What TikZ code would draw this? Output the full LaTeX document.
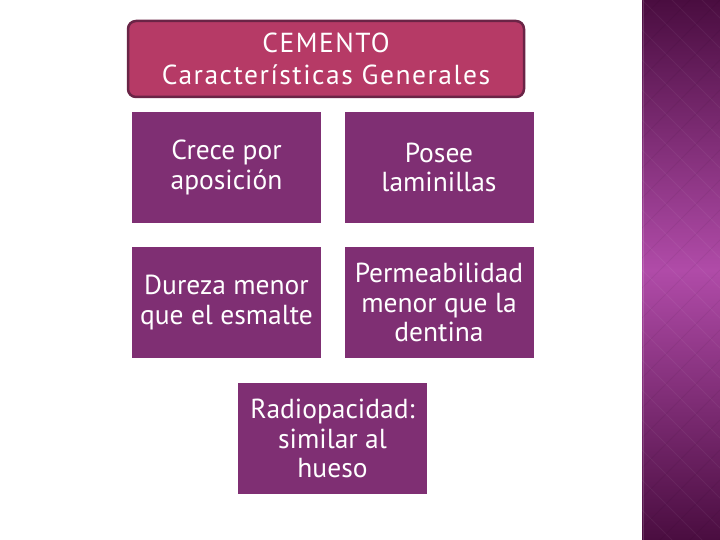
\documentclass[tikz,border=0pt]{standalone}
\usepackage{fontspec}
\setmainfont{PT Sans}
\newfontfamily\titlefont[LetterSpace=5.5]{PT Sans}
\definecolor{titlefill}{HTML}{B63A66}
\definecolor{titledraw}{HTML}{6A2446}
\definecolor{boxfill}{HTML}{7F2F73}
\definecolor{stripdark}{HTML}{4A0D40}
\definecolor{stripmid}{HTML}{B04BA8}
\begin{document}
\begin{tikzpicture}[x=1pt,y=-1pt,
  titlebox/.style={draw=titledraw,line width=2.5pt,fill=titlefill,rounded corners=8pt,
    minimum width=396pt,minimum height=76pt,text=white,align=center,inner sep=0pt,
    font=\titlefont\fontsize{27.5}{32}\selectfont},
  itembox/.style={fill=boxfill,minimum width=189pt,minimum height=111pt,text=white,
    align=center,inner sep=0pt,font=\fontsize{27.5}{29.5}\selectfont}]
\useasboundingbox (0,0) rectangle (720,540);
\fill[white] (0,0) rectangle (720,540);
% decorative strip
\shade[top color=stripdark,bottom color=stripdark,middle color=stripmid] (642,0) rectangle (720,540);
\begin{scope}
\clip (642,0) rectangle (720,540);
\foreach \k in {-3,...,22} {
  \draw[white,opacity=0.05,line width=0.8pt] (642,{\k*30}) -- ++(120,120);
  \draw[black,opacity=0.05,line width=0.8pt] (720,{\k*30}) -- ++(-120,120);
}
\end{scope}
\draw[white,opacity=0.15,line width=1pt] (643,0) -- (643,540);
% title
\node[titlebox] (title) at (326,59) {CEMENTO\\Características Generales};
% items
\node[itembox] (b1) at (226.5,167.5) {Crece por\\aposición};
\node[itembox] (b2) at (439,167.5) {Posee\\laminillas};
\node[itembox] (b3) at (226.5,302.5) {Dureza menor\\que el esmalte};
\node[itembox] (b4) at (439,302.5) {Permeabilidad\\menor que la\\dentina};
\node[itembox] (b5) at (332.5,438.5) {Radiopacidad:\\similar al\\hueso};
\end{tikzpicture}
\end{document}
